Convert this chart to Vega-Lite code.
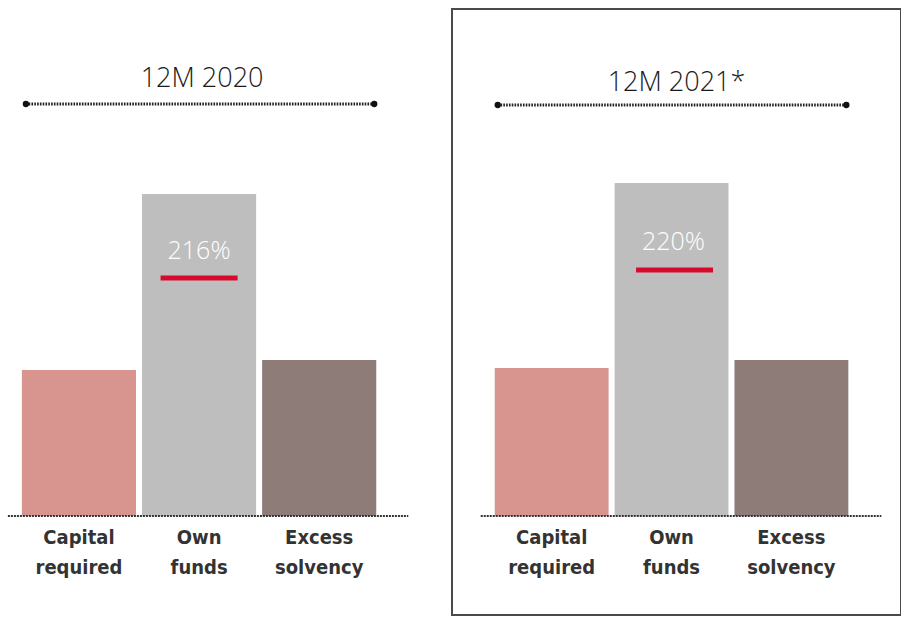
{
  "$schema": "https://vega.github.io/schema/vega-lite/v6.json",
  "padding": {"left": 0, "top": 8, "right": 0, "bottom": 0},
  "background": "white",
  "config": {"view": {"stroke": null}, "concat": {"spacing": 8}},
  "datasets": {
    "bars": [
      {"period": "12M 2020", "item": "Capital required", "value": 146},
      {"period": "12M 2020", "item": "Own funds", "value": 322},
      {"period": "12M 2020", "item": "Excess solvency", "value": 156},
      {"period": "12M 2021*", "item": "Capital required", "value": 148},
      {"period": "12M 2021*", "item": "Own funds", "value": 333},
      {"period": "12M 2021*", "item": "Excess solvency", "value": 156}
    ],
    "ratio": [
      {"period": "12M 2020", "item": "Own funds", "pct": "216%"},
      {"period": "12M 2021*", "item": "Own funds", "pct": "220%"}
    ]
  },
  "hconcat": [
    {
      "width": 443,
      "height": 606,
      "view": {"stroke": null},
      "encoding": {
        "x": {"field": "item", "type": "nominal", "sort": ["Capital required", "Own funds", "Excess solvency"],
              "scale": {"domain": ["Capital required", "Own funds", "Excess solvency"], "paddingInner": 0.05, "paddingOuter": 0.369, "align": 0.247}, "axis": null}
      },
      "layer": [
        {
          "data": {"name": "bars"},
          "transform": [{"filter": "datum.period === '12M 2020'"}],
          "mark": {"type": "bar"},
          "encoding": {
            "y": {"field": "value", "type": "quantitative", "scale": {"domain": [-99, 507], "nice": false, "zero": false}, "axis": null},
            "color": {"field": "item", "type": "nominal", "scale": {"domain": ["Capital required", "Own funds", "Excess solvency"], "range": ["#d8958f", "#bebebe", "#8d7c78"]}, "legend": null}
          }
        },
        {
          "data": {"name": "bars"},
          "transform": [{"filter": "datum.period === '12M 2020'"}],
          "mark": {"type": "text", "lineBreak": " ", "lineHeight": 30, "baseline": "top", "font": "DejaVu Sans Condensed", "fontWeight": "bold", "fontSize": 20, "color": "#333"},
          "encoding": {
            "y": {"datum": -12, "type": "quantitative"},
            "text": {"field": "item"}
          }
        },
        {
          "data": {"values": [{}]},
          "mark": {"type": "rule", "strokeDash": [2, 1], "strokeWidth": 2, "color": "#333", "xOffset": -14, "x2Offset": 32},
          "encoding": {
            "x": {"datum": "Capital required", "bandPosition": 0},
            "x2": {"datum": "Excess solvency", "bandPosition": 1},
            "y": {"datum": 0, "type": "quantitative"}
          }
        },
        {
          "data": {"values": [{}]},
          "mark": {"type": "rule", "strokeDash": [1.6, 1.2], "strokeWidth": 3, "color": "#222", "xOffset": 4, "x2Offset": -2},
          "encoding": {
            "x": {"datum": "Capital required", "bandPosition": 0},
            "x2": {"datum": "Excess solvency", "bandPosition": 1},
            "y": {"datum": 412, "type": "quantitative"}
          }
        },
        {
          "data": {"values": [{}]},
          "mark": {"type": "point", "filled": true, "size": 40, "opacity": 1, "color": "#111", "xOffset": 4},
          "encoding": {
            "x": {"datum": "Capital required", "bandPosition": 0},
            "y": {"datum": 412, "type": "quantitative"}
          }
        },
        {
          "data": {"values": [{}]},
          "mark": {"type": "point", "filled": true, "size": 40, "opacity": 1, "color": "#111", "xOffset": -2},
          "encoding": {
            "x": {"datum": "Excess solvency", "bandPosition": 1},
            "y": {"datum": 412, "type": "quantitative"}
          }
        },
        {
          "data": {"name": "ratio"},
          "transform": [{"filter": "datum.period === '12M 2020'"}],
          "mark": {"type": "text", "font": "Open Sans", "fontWeight": 300, "fontSize": 27, "color": "#1a1a1a", "baseline": "middle", "xOffset": 3},
          "encoding": {
            "y": {"datum": 437, "type": "quantitative"},
            "text": {"field": "period"}
          }
        },
        {
          "data": {"name": "ratio"},
          "transform": [{"filter": "datum.period === '12M 2020'"}],
          "mark": {"type": "tick", "size": 77, "thickness": 5, "opacity": 1, "color": "#d70a2d"},
          "encoding": {
            "y": {"datum": 238, "type": "quantitative"}
          }
        },
        {
          "data": {"name": "ratio"},
          "transform": [{"filter": "datum.period === '12M 2020'"}],
          "mark": {"type": "text", "font": "Open Sans", "fontWeight": 300, "fontSize": 25, "color": "white", "baseline": "middle"},
          "encoding": {
            "y": {"datum": 265, "type": "quantitative"},
            "text": {"field": "pct"}
          }
        }
      ]
    },
    {
      "width": 449,
      "height": 606,
      "view": {"stroke": "#4a4a4a", "strokeWidth": 2},
      "encoding": {
        "x": {"field": "item", "type": "nominal", "sort": ["Capital required", "Own funds", "Excess solvency"],
              "scale": {"domain": ["Capital required", "Own funds", "Excess solvency"], "paddingInner": 0.05, "paddingOuter": 0.398, "align": 0.448}, "axis": null}
      },
      "layer": [
        {
          "data": {"name": "bars"},
          "transform": [{"filter": "datum.period === '12M 2021*'"}],
          "mark": {"type": "bar"},
          "encoding": {
            "y": {"field": "value", "type": "quantitative", "scale": {"domain": [-99, 507], "nice": false, "zero": false}, "axis": null},
            "color": {"field": "item", "type": "nominal", "scale": {"domain": ["Capital required", "Own funds", "Excess solvency"], "range": ["#d8958f", "#bebebe", "#8d7c78"]}, "legend": null}
          }
        },
        {
          "data": {"name": "bars"},
          "transform": [{"filter": "datum.period === '12M 2021*'"}],
          "mark": {"type": "text", "lineBreak": " ", "lineHeight": 30, "baseline": "top", "font": "DejaVu Sans Condensed", "fontWeight": "bold", "fontSize": 20, "color": "#333"},
          "encoding": {
            "y": {"datum": -12, "type": "quantitative"},
            "text": {"field": "item"}
          }
        },
        {
          "data": {"values": [{}]},
          "mark": {"type": "rule", "strokeDash": [2, 1], "strokeWidth": 2, "color": "#333", "xOffset": -14, "x2Offset": 33},
          "encoding": {
            "x": {"datum": "Capital required", "bandPosition": 0},
            "x2": {"datum": "Excess solvency", "bandPosition": 1},
            "y": {"datum": 0, "type": "quantitative"}
          }
        },
        {
          "data": {"values": [{}]},
          "mark": {"type": "rule", "strokeDash": [1.6, 1.2], "strokeWidth": 3, "color": "#222", "xOffset": 3, "x2Offset": -2},
          "encoding": {
            "x": {"datum": "Capital required", "bandPosition": 0},
            "x2": {"datum": "Excess solvency", "bandPosition": 1},
            "y": {"datum": 411, "type": "quantitative"}
          }
        },
        {
          "data": {"values": [{}]},
          "mark": {"type": "point", "filled": true, "size": 40, "opacity": 1, "color": "#111", "xOffset": 3},
          "encoding": {
            "x": {"datum": "Capital required", "bandPosition": 0},
            "y": {"datum": 411, "type": "quantitative"}
          }
        },
        {
          "data": {"values": [{}]},
          "mark": {"type": "point", "filled": true, "size": 40, "opacity": 1, "color": "#111", "xOffset": -2},
          "encoding": {
            "x": {"datum": "Excess solvency", "bandPosition": 1},
            "y": {"datum": 411, "type": "quantitative"}
          }
        },
        {
          "data": {"name": "ratio"},
          "transform": [{"filter": "datum.period === '12M 2021*'"}],
          "mark": {"type": "text", "font": "Open Sans", "fontWeight": 300, "fontSize": 27, "color": "#1a1a1a", "baseline": "middle", "xOffset": 5},
          "encoding": {
            "y": {"datum": 433, "type": "quantitative"},
            "text": {"field": "period"}
          }
        },
        {
          "data": {"name": "ratio"},
          "transform": [{"filter": "datum.period === '12M 2021*'"}],
          "mark": {"type": "tick", "size": 77, "thickness": 5, "opacity": 1, "color": "#d70a2d", "xOffset": 3},
          "encoding": {
            "y": {"datum": 246, "type": "quantitative"}
          }
        },
        {
          "data": {"name": "ratio"},
          "transform": [{"filter": "datum.period === '12M 2021*'"}],
          "mark": {"type": "text", "font": "Open Sans", "fontWeight": 300, "fontSize": 25, "color": "white", "baseline": "middle", "xOffset": 2},
          "encoding": {
            "y": {"datum": 274, "type": "quantitative"},
            "text": {"field": "pct"}
          }
        }
      ]
    }
  ]
}
